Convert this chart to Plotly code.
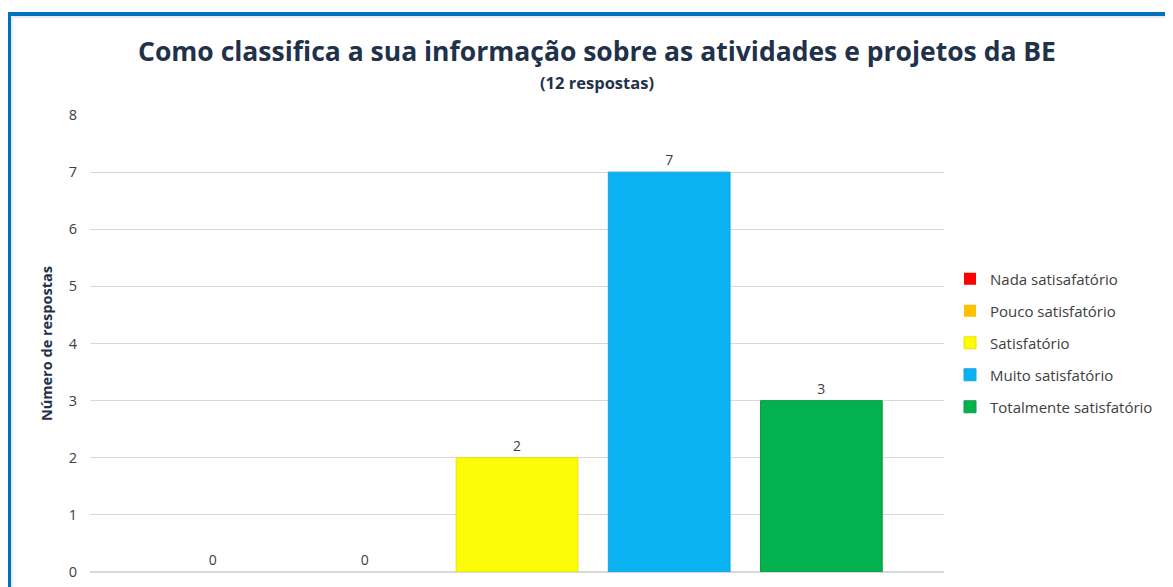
import plotly.graph_objects as go

series_names = ["Nada satisafatório", "Pouco satisfatório", "Satisfatório",
                "Muito satisfatório", "Totalmente satisfatório"]
series_values = [0, 0, 2, 7, 3]
series_colors = ["#FF0000", "#FFC000", "#FCFC08", "#0AB2F2", "#03B24F"]
line_colors = ["#E00000", "#E0A800", "#E6E600", "#1AA3E0", "#109A48"]
category = ["Respostas"]
y_ticks = [0, 1, 2, 3, 4, 5, 6, 7, 8]

# page has an 8px body margin; figure coords = page coords - OFF
OFF = 8
W, H = 1173 - 2 * OFF, 587 - OFF
L = 90 - OFF
T = 115 - OFF
PW = 854
PH = 572 - 115
R = W - L - PW
B = H - T - PH

def px_x(x):
    return (x - OFF - L) / PW

def px_y(y):
    return 1 - (y - OFF - T) / PH

fig = go.Figure()
for name, val, col, lc in zip(series_names, series_values, series_colors, line_colors):
    fig.add_trace(go.Bar(
        x=category, y=[val], name=name,
        marker=dict(color=col, line=dict(color=lc, width=1 if val else 0)),
        text=[val], textposition="outside", cliponaxis=False,
        textfont=dict(family="Open Sans", size=14, color="#404040"),
        legendgroup=name,
    ))

fig.update_layout(
    width=W, height=H,
    margin=dict(l=L, r=R, t=T, b=B, autoexpand=False),
    paper_bgcolor="white", plot_bgcolor="white",
    barmode="group", bargap=0.109, bargroupgap=0.2,
    title=dict(
        text="<b>Como classifica a sua informação sobre as atividades e projetos da BE</b>",
        x=(597 - OFF) / W, xanchor="center", xref="container",
        y=1 - (52 - OFF) / H, yanchor="middle", yref="container",
        font=dict(family="Open Sans", size=26.5, color="#1F3249"),
    ),
    showlegend=True,
    legend=dict(
        x=px_x(950), xanchor="left", y=px_y(343), yanchor="middle",
        font=dict(family="Open Sans", size=15, color="#404040"),
        traceorder="grouped", tracegroupgap=9.5,
        itemwidth=30, bgcolor="rgba(0,0,0,0)",
    ),
    yaxis=dict(
        range=[0, 8], tickvals=y_ticks, showgrid=True, gridcolor="#D9D9D9",
        gridwidth=1, zeroline=True, zerolinecolor="#D9D9D9", showline=False,
        tickfont=dict(family="Open Sans", size=14.5, color="#404040"),
        ticklabelstandoff=12, ticklabeloverflow="allow", automargin=False,
        fixedrange=True,
    ),
    xaxis=dict(showticklabels=False, showgrid=False, showline=False,
               automargin=False, fixedrange=True),
    font=dict(family="Open Sans"),
)

fig.add_annotation(
    text="<b>(12 respostas)</b>", xref="paper", yref="paper",
    x=px_x(597), y=px_y(83), xanchor="center", yanchor="middle", showarrow=False,
    font=dict(family="Open Sans", size=16.5, color="#1F3249"),
)
fig.add_annotation(
    text="<b>Número de respostas</b>", xref="paper", yref="paper",
    x=px_x(46), y=px_y(344), xanchor="center", yanchor="middle", showarrow=False,
    textangle=-90, font=dict(family="Open Sans", size=14.5, color="#1F3249"),
)

# outer frame
fig.add_shape(type="rect", xref="paper", yref="paper",
              x0=px_x(9), x1=px_x(1200), y0=px_y(620), y1=px_y(14),
              line=dict(color="#0070C0", width=4), fillcolor="rgba(0,0,0,0)", layer="above")
fig.add_shape(type="rect", xref="paper", yref="paper",
              x0=px_x(12), x1=px_x(1200), y0=px_y(620), y1=px_y(17),
              line=dict(color="#D6D6D6", width=1), fillcolor="rgba(0,0,0,0)", layer="above")

fig.write_html("out.html")
